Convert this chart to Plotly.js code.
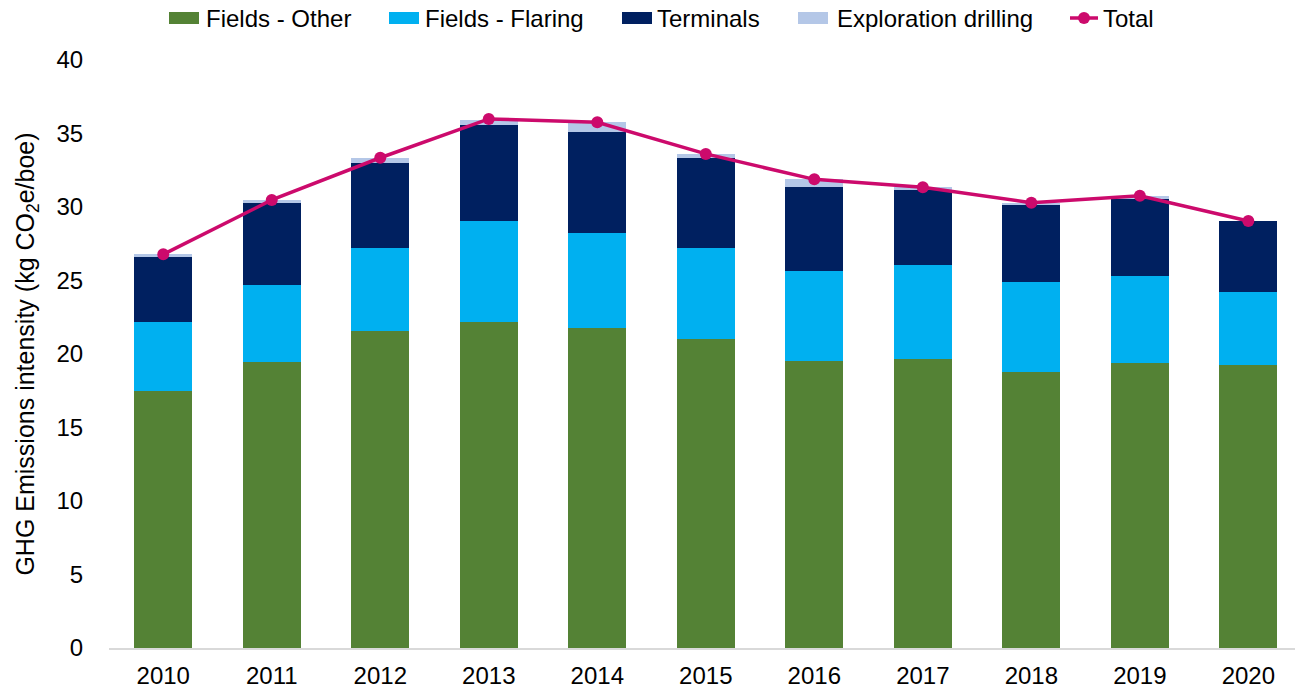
<!DOCTYPE html>
<html>
<head>
<meta charset="utf-8">
<script src="https://cdn.plot.ly/plotly-3.0.1.min.js"></script>
<style>html,body{margin:0;padding:0;background:#fff;}#chart{width:1295px;height:692px;}</style>
</head>
<body>
<div id="chart"></div>
<script>
const years = ['2010','2011','2012','2013','2014','2015','2016','2017','2018','2019','2020'];
const fieldsOther = [17.48, 19.46, 21.56, 22.18, 21.77, 21.02, 19.52, 19.66, 18.78, 19.39, 19.25];
const fieldsFlaring = [4.70, 5.23, 5.65, 6.87, 6.44, 6.21, 6.10, 6.39, 6.12, 5.92, 4.97];
const terminals = [4.44, 5.58, 5.76, 6.53, 6.89, 6.08, 5.72, 5.11, 5.21, 5.23, 4.83];
const exploration = [0.16, 0.21, 0.34, 0.36, 0.66, 0.30, 0.54, 0.18, 0.18, 0.21, 0.02];
const total = [26.78, 30.48, 33.35, 35.99, 35.76, 33.61, 31.88, 31.34, 30.29, 30.77, 29.05];
const seriesNames = ['Fields - Other', 'Fields - Flaring', 'Terminals', 'Exploration drilling', 'Total'];
const seriesColors = ['#548235', '#00B0F0', '#002060', '#B4C7E7', '#CC0A6C'];

const font = "Liberation Sans, Arial, sans-serif";
const barData = [fieldsOther, fieldsFlaring, terminals, exploration];
const traces = barData.map((vals, i) => ({
  type:'bar', name:seriesNames[i], x:years, y:vals, marker:{color:seriesColors[i]}, showlegend:false
}));
traces.push({type:'scatter', mode:'lines+markers', name:seriesNames[4], x:years, y:total,
   line:{color:seriesColors[4], width:3.5}, marker:{color:seriesColors[4], size:12}, showlegend:false});

// Custom legend (layout geometry in pixels -> paper coords)
const L = 109, T = 60, W = 1186, H = 588;
const px = v => (v - L) / W;
const py = v => (T + H - v) / H;
const swatchX = [169, 389, 622, 798];
const textX = [204, 423, 655, 835, 1101];
const legY = 18;
const shapes = [];
const annotations = [];
for (let i = 0; i < 4; i++) {
  shapes.push({type:'rect', xref:'paper', yref:'paper', x0:px(swatchX[i]), x1:px(swatchX[i]+30),
    y0:py(legY+6), y1:py(legY-6), fillcolor:seriesColors[i], line:{width:0}});
}
shapes.push({type:'line', xref:'paper', yref:'paper', x0:px(1070), x1:px(1098), y0:py(legY), y1:py(legY),
  line:{color:seriesColors[4], width:3.5}});
shapes.push({type:'circle', xref:'paper', yref:'paper', x0:px(1078), x1:px(1090), y0:py(legY+6), y1:py(legY-6),
  fillcolor:seriesColors[4], line:{width:0}});
for (let i = 0; i < 5; i++) {
  annotations.push({xref:'paper', yref:'paper', x:px(textX[i]), y:py(legY), xanchor:'left', yanchor:'middle',
    text:seriesNames[i], showarrow:false, font:{size:24, color:'#000', family:font}});
}

const layout = {
  width:1295, height:692,
  margin:{l:L, r:0, t:T, b:692-T-H},
  barmode:'stack', bargap:0.465,
  paper_bgcolor:'#fff', plot_bgcolor:'#fff',
  font:{family:font, size:24, color:'#000'},
  showlegend:false,
  shapes:shapes, annotations:annotations,
  xaxis:{type:'category', range:[-0.5, 10.43], showline:true, linecolor:'#D9D9D9', linewidth:1.5,
         ticks:'outside', ticklen:6, tickcolor:'rgba(0,0,0,0)', showgrid:false, zeroline:false, tickfont:{size:24}},
  yaxis:{range:[0,40], dtick:5, showgrid:false, zeroline:false, showline:false,
         ticks:'outside', ticklen:20, tickcolor:'rgba(0,0,0,0)', tickfont:{size:24},
         title:{text:'GHG Emissions intensity (kg CO<sub>2</sub>e/boe)', font:{size:25}, standoff:14}}
};
Plotly.newPlot('chart', traces, layout, {displayModeBar:false, staticPlot:true});
</script>
</body>
</html>
